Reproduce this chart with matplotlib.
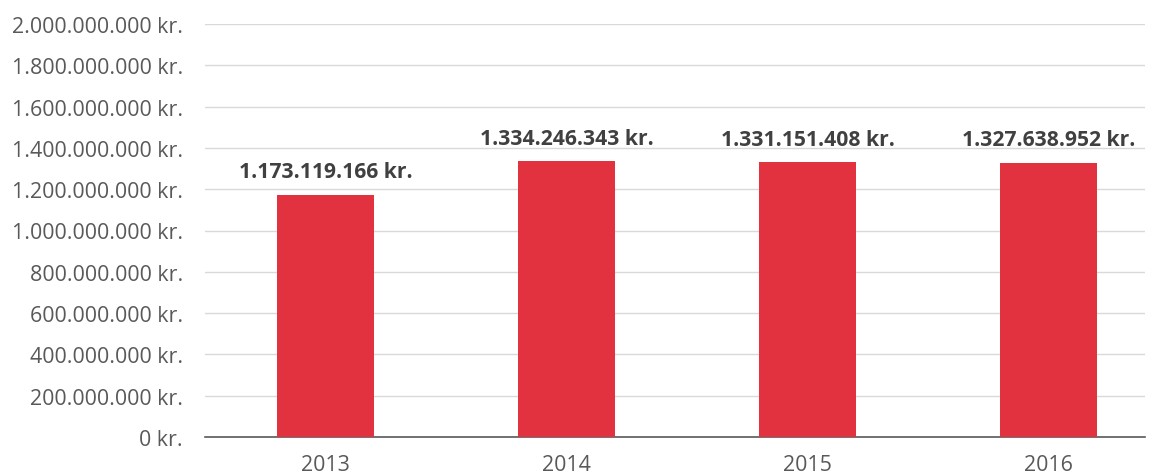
import matplotlib.pyplot as plt
from matplotlib.ticker import FuncFormatter

years = ["2013", "2014", "2015", "2016"]
values = [1173119166, 1334246343, 1331151408, 1327638952]


def kr(v, pos=None):
    return "{:,.0f} kr.".format(v).replace(",", ".")


plt.rcParams['font.family'] = ['Open Sans', 'DejaVu Sans']

fig = plt.figure(figsize=(11.55, 4.77), dpi=100)
ax = fig.add_axes([205 / 1155, 39 / 477, 940 / 1155, 413 / 477])

x = list(range(len(years)))
ax.bar(x, values, width=0.4, color="#E3323F", zorder=3)

for xi, v in zip(x, values):
    ax.annotate(kr(v), (xi, v), xytext=(0, 9), textcoords="offset points",
                ha="center", va="bottom", fontsize=15.2, fontweight="bold",
                color="#404040")

ax.set_xlim(-0.5, -0.5 + 940 / 241)
ax.set_ylim(0, 2000000000)
ax.set_yticks(range(0, 2000000001, 200000000))
ax.yaxis.set_major_formatter(FuncFormatter(kr))
ax.set_xticks(x)
ax.set_xticklabels(years)

ax.grid(axis="y", color="#D9D9D9", linewidth=1, zorder=0)
for s in ["top", "right", "left"]:
    ax.spines[s].set_visible(False)
ax.spines["bottom"].set_color("#595959")
ax.spines["bottom"].set_linewidth(1.2)
ax.tick_params(axis="both", length=0, labelsize=15.4, labelcolor="#595959")
ax.tick_params(axis="x", pad=12)
ax.tick_params(axis="y", pad=16)

fig.savefig("out.png", dpi=100)
